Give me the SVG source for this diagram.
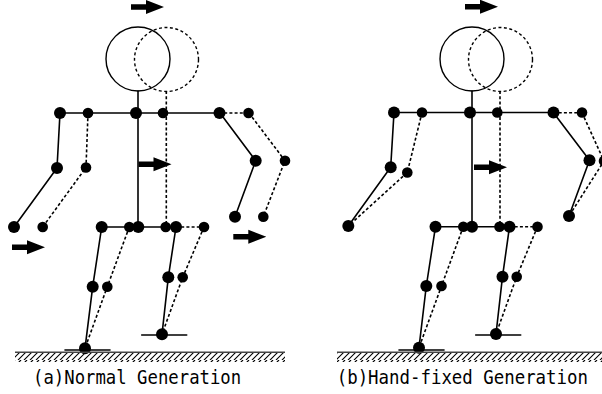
<svg xmlns="http://www.w3.org/2000/svg" width="602" height="394" viewBox="0 0 602 394">
  <style>
    .bone { fill: none; stroke: #000; stroke-width: 1.6; stroke-linecap: round; stroke-linejoin: round; }
    .ghost { fill: none; stroke: #000; stroke-width: 1.6; stroke-dasharray: 3 2.2; }
    .head { fill: none; stroke: #000; stroke-width: 1.4; }
    .head-ghost { fill: none; stroke: #000; stroke-width: 1.4; stroke-dasharray: 3 2.5; }
    .joint { fill: #000; }
    .ground { stroke: #444; stroke-width: 1.6; }
    .caption { font-family: "DejaVu Sans Mono", "Liberation Mono", monospace; font-size: 20px; fill: #000; }
  </style>
  <defs>
    <path id="arrow" d="M0,-2.8 H15 V-7 L33,0 L15,7 V2.8 H0 Z" fill="#000"/>
    <pattern id="hatch" patternUnits="userSpaceOnUse" width="6" height="9">
      <path d="M-6,9 L3,0 M0,9 L9,0 M6,9 L15,0" stroke="#000" stroke-width="1.2"/>
    </pattern>
  </defs>

  <!-- (a) normal generation -->
  <g id="figure-a">
    <g id="a-heads">
      <circle class="head" cx="138" cy="59" r="32"/>
      <circle class="head-ghost" cx="166.5" cy="59.5" r="32"/>
    </g>
    <g id="a-connectors">
      <!-- current pose -->
      <path class="bone" d="M138,91 V227"/>
      <path class="bone" d="M60,113 H219"/>
      <path class="bone" d="M60,113 L57,168 L14,227"/>
      <path class="bone" d="M220,113 L255.7,160.7 L235,216.7"/>
      <path class="bone" d="M101.7,227 H176"/>
      <path class="bone" d="M101.7,227 L92.7,286.7 L85,348.3"/>
      <path class="bone" d="M176,227 L168.3,277.3 L162,334.3"/>
      <path class="bone" d="M65,350 H110"/>
      <path class="bone" d="M141.7,335 H186.7"/>
      <!-- next pose -->
      <path class="ghost" d="M166.3,91 V227"/>
      <path class="ghost" d="M219,113 H248"/>
      <path class="ghost" d="M88,113 L86,167.5 L42.7,227"/>
      <path class="ghost" d="M249,113 L285,160.7 L263.3,216.7"/>
      <path class="ghost" d="M176,227 H204"/>
      <path class="ghost" d="M129.3,227 L107.3,286.7 L85,348.3"/>
      <path class="ghost" d="M204,227 L182.7,277.3 L162,334.3"/>
    </g>
    <g id="a-joints">
      <circle class="joint" cx="60" cy="113" r="6"/>
      <circle class="joint" cx="136" cy="113" r="6"/>
      <circle class="joint" cx="219.5" cy="113" r="6"/>
      <circle class="joint" cx="57" cy="168" r="6"/>
      <circle class="joint" cx="14" cy="227" r="6"/>
      <circle class="joint" cx="255.7" cy="160.7" r="6"/>
      <circle class="joint" cx="235" cy="216.7" r="6"/>
      <circle class="joint" cx="101.7" cy="227" r="6"/>
      <circle class="joint" cx="138.3" cy="227" r="6"/>
      <circle class="joint" cx="176" cy="227" r="6"/>
      <circle class="joint" cx="92.7" cy="286.7" r="6"/>
      <circle class="joint" cx="85" cy="348.3" r="6"/>
      <circle class="joint" cx="168.3" cy="277.3" r="6"/>
      <circle class="joint" cx="162" cy="334.3" r="6"/>
      <circle class="joint" cx="88" cy="113" r="5.3"/>
      <circle class="joint" cx="163" cy="113" r="5.3"/>
      <circle class="joint" cx="248.5" cy="113" r="5.3"/>
      <circle class="joint" cx="86" cy="167.5" r="5.3"/>
      <circle class="joint" cx="42.7" cy="227" r="5.3"/>
      <circle class="joint" cx="285" cy="160.7" r="5.3"/>
      <circle class="joint" cx="263.3" cy="216.7" r="5.3"/>
      <circle class="joint" cx="129.3" cy="227" r="5.3"/>
      <circle class="joint" cx="165.7" cy="227" r="5.3"/>
      <circle class="joint" cx="204" cy="227" r="5.3"/>
      <circle class="joint" cx="107.3" cy="286.7" r="5.3"/>
      <circle class="joint" cx="182.7" cy="277.3" r="5.3"/>
    </g>
    <g id="a-arrows">
      <use href="#arrow" x="131" y="7"/>
      <use href="#arrow" x="138.5" y="164.3"/>
      <use href="#arrow" x="12" y="247.3"/>
      <use href="#arrow" x="233.3" y="236.7"/>
    </g>
    <g id="a-ground">
      <rect x="15" y="353" width="270" height="9" fill="url(#hatch)"/>
      <line class="ground" x1="15" y1="352.3" x2="285" y2="352.3"/>
    </g>
    <text class="caption" transform="matrix(0.865 0 0 1 33 384)">(a)Normal Generation</text>
  </g>

  <!-- (b) hand-fixed generation -->
  <g id="figure-b">
    <g id="b-heads">
      <circle class="head" cx="472" cy="59" r="32"/>
      <circle class="head-ghost" cx="500.5" cy="59.5" r="32"/>
    </g>
    <g id="b-connectors">
      <!-- current pose -->
      <path class="bone" d="M472,91 V227"/>
      <path class="bone" d="M394,112.5 H553.5"/>
      <path class="bone" d="M394,112.5 L390.7,167.3 L348.3,226"/>
      <path class="bone" d="M553.5,112.7 L589.5,160.3 L569,216"/>
      <path class="bone" d="M435.5,226.7 H509.5"/>
      <path class="bone" d="M435.5,226.7 L426.3,286 L419,347.7"/>
      <path class="bone" d="M509.5,226.7 L502.5,276.7 L496,334"/>
      <path class="bone" d="M399,350 H444"/>
      <path class="bone" d="M475.7,335 H520.7"/>
      <!-- next pose, hands held fixed -->
      <path class="ghost" d="M500,91 V227"/>
      <path class="ghost" d="M553.5,112.7 H582"/>
      <path class="ghost" d="M422,112.5 L407.3,172.5 L348.3,226"/>
      <path class="ghost" d="M582,112.7 L604,161 L569,216"/>
      <path class="ghost" d="M509.5,226.7 H537.5"/>
      <path class="ghost" d="M463.3,226.7 L441.5,286 L419,347.7"/>
      <path class="ghost" d="M537.5,226.7 L516.7,276.7 L496,334"/>
    </g>
    <g id="b-joints">
      <circle class="joint" cx="394" cy="112.5" r="6"/>
      <circle class="joint" cx="470" cy="112.5" r="6"/>
      <circle class="joint" cx="553.5" cy="112.5" r="6"/>
      <circle class="joint" cx="390.7" cy="167.3" r="6"/>
      <circle class="joint" cx="348.3" cy="226" r="6"/>
      <circle class="joint" cx="589.5" cy="160.3" r="6"/>
      <circle class="joint" cx="569" cy="216" r="6"/>
      <circle class="joint" cx="435.5" cy="226.7" r="6"/>
      <circle class="joint" cx="472" cy="226.7" r="6"/>
      <circle class="joint" cx="509.5" cy="226.7" r="6"/>
      <circle class="joint" cx="426.3" cy="286" r="6"/>
      <circle class="joint" cx="419" cy="347.7" r="6"/>
      <circle class="joint" cx="502.5" cy="276.7" r="6"/>
      <circle class="joint" cx="496" cy="334" r="6"/>
      <circle class="joint" cx="422" cy="112.5" r="5.3"/>
      <circle class="joint" cx="497.3" cy="112.5" r="5.3"/>
      <circle class="joint" cx="582" cy="112.5" r="5.3"/>
      <circle class="joint" cx="407.3" cy="172.5" r="5.3"/>
      <circle class="joint" cx="604" cy="161" r="5.3"/>
      <circle class="joint" cx="463.3" cy="226.7" r="5.3"/>
      <circle class="joint" cx="499.5" cy="226.7" r="5.3"/>
      <circle class="joint" cx="537.5" cy="226.7" r="5.3"/>
      <circle class="joint" cx="441.5" cy="286" r="5.3"/>
      <circle class="joint" cx="516.7" cy="276.7" r="5.3"/>
    </g>
    <g id="b-arrows">
      <use href="#arrow" x="465" y="6.7"/>
      <use href="#arrow" x="474" y="167.3"/>
    </g>
    <g id="b-ground">
      <rect x="337" y="353" width="265" height="9" fill="url(#hatch)"/>
      <line class="ground" x1="337" y1="352.3" x2="602" y2="352.3"/>
    </g>
    <text class="caption" transform="matrix(0.87 0 0 1 336.7 384)">(b)Hand-fixed Generation</text>
  </g>
</svg>
